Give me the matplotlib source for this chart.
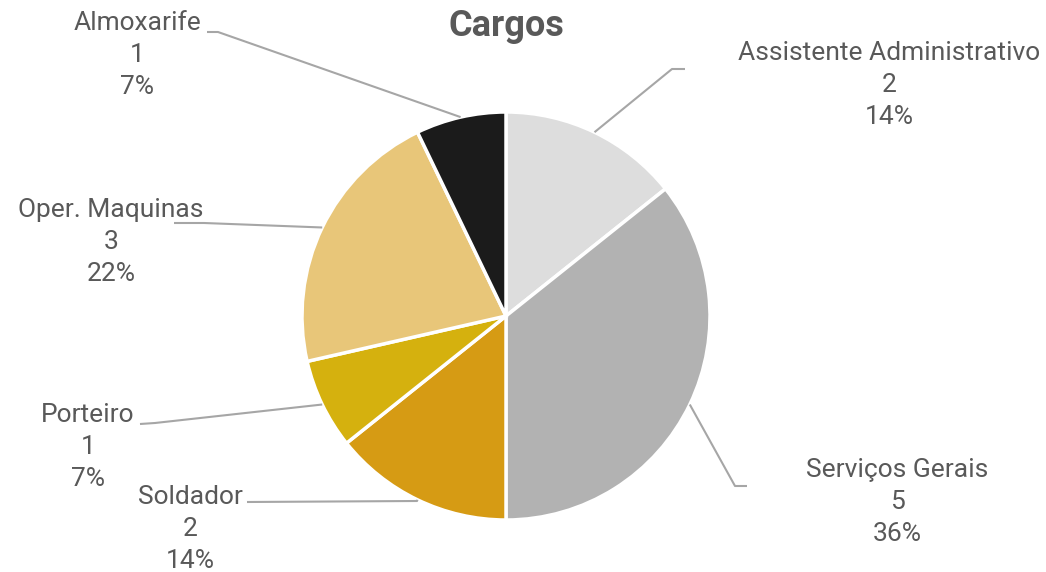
import numpy as np
import matplotlib
matplotlib.use("Agg")
import matplotlib.pyplot as plt

categories = ["Assistente Administrativo", "Serviços Gerais", "Soldador",
              "Porteiro", "Oper. Maquinas", "Almoxarife"]
values = [2, 5, 2, 1, 3, 1]
pct_labels = ["14%", "36%", "14%", "7%", "22%", "7%"]
colors = ["#DDDDDD", "#B2B2B2", "#D69B14", "#D5B10E", "#E8C679", "#1B1B1B"]
title = "Cargos"

W, H = 1046, 572
plt.rcParams['font.family'] = ['Roboto', 'DejaVu Sans']
fig = plt.figure(figsize=(W / 100, H / 100), dpi=100)
ax = fig.add_axes([0, 0, 1, 1])
ax.set_xlim(0, W)
ax.set_ylim(0, H)
ax.axis('off')

cx, cy, r = 506, H - 316, 204
wedges, _ = ax.pie(values, colors=colors, startangle=90, counterclock=False,
                   center=(cx, cy), radius=r,
                   wedgeprops=dict(edgecolor='white', linewidth=2.5))
ax.set_xlim(0, W)
ax.set_ylim(0, H)
ax.set_aspect('equal')

# label block centres (pixels, y down) and leader-line elbow/end points
text_pos = [(889, 85), (897, 502), (190, 529), (88, 447), (111, 242), (137, 55)]
elbows = [((672, 69), (685, 69)),
          ((735, 486), (747, 486)),
          ((417, 501), (247, 502)),
          ((155, 423), (140, 424)),
          ((204, 223), (174, 223)),
          ((218, 32), (207, 32))]
txtcol = "#595959"
for w, name, v, pl, tp, (e1, e2) in zip(wedges, categories, values, pct_labels,
                                         text_pos, elbows):
    ang = np.deg2rad((w.theta1 + w.theta2) / 2)
    ax0 = cx + r * np.cos(ang)
    ay0 = cy + r * np.sin(ang)
    xs = [ax0, e1[0], e2[0]]
    ys = [ay0, H - e1[1], H - e2[1]]
    ax.plot(xs, ys, color="#A6A6A6", lw=1.5, solid_capstyle='butt', zorder=1)
    ax.text(tp[0], H - tp[1], f"{name}\n{v}\n{pl}", ha='center', va='center',
            fontsize=19, color=txtcol, linespacing=1.42)

ax.text(506, H - 26, title, ha='center', va='center', fontsize=26,
        fontweight='bold', color=txtcol)

fig.savefig("out.png", dpi=100)
